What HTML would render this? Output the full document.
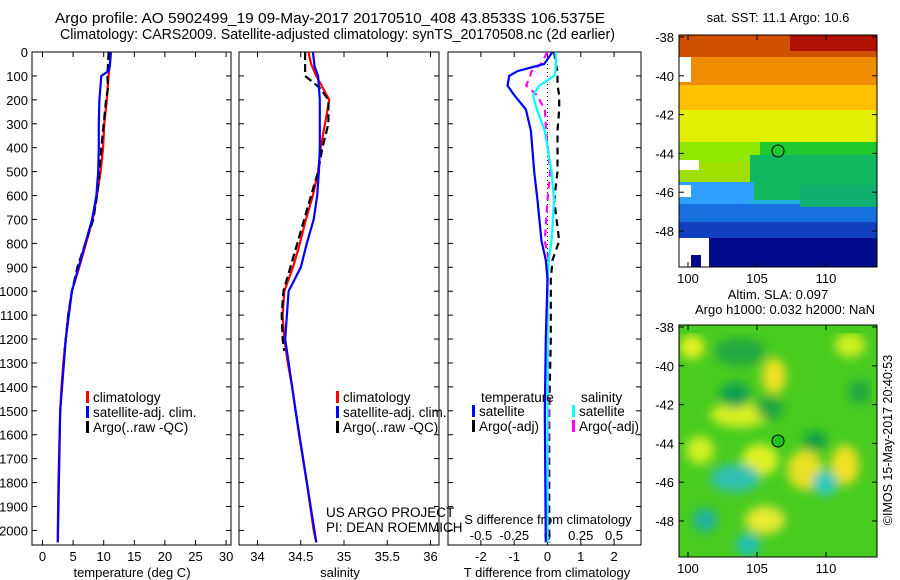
<!DOCTYPE html>
<html><head><meta charset="utf-8"><style>
body{margin:0;background:#fff;}
svg{display:block;font-family:"Liberation Sans",sans-serif;font-size:13px;}
.big{font-size:13px;}
.leg{font-size:13.5px;}
.ttl{font-size:15px;}
</style></head><body>
<svg id="fig" width="900" height="580" viewBox="0 0 900 580">
<defs>
<filter id="blur" x="0" y="0" width="1" height="1"><feGaussianBlur stdDeviation="5"/></filter>
<clipPath id="c1"><rect x="32" y="52" width="199" height="493"/></clipPath>
<clipPath id="c2"><rect x="239" y="52" width="200" height="493"/></clipPath>
<clipPath id="c3"><rect x="448" y="52" width="193" height="493"/></clipPath>
<clipPath id="cm2"><rect x="679" y="325" width="198" height="232"/></clipPath>
</defs>
<text class="ttl" x="55" y="23" textLength="550" lengthAdjust="spacingAndGlyphs">Argo profile: AO 5902499_19 09-May-2017 20170510_408 43.8533S 106.5375E</text>
<text class="ttl" x="60" y="39" textLength="555" lengthAdjust="spacingAndGlyphs">Climatology: CARS2009. Satellite-adjusted climatology: synTS_20170508.nc (2d earlier)</text>

<g id="p1"></g>
<g id="p2"></g>
<g id="p3"></g>

<!-- SST map -->
<g>
<text x="778" y="22" text-anchor="middle">sat. SST: 11.1 Argo: 10.6</text>
<rect x="679" y="35" width="198" height="232" fill="#fff"/>
<rect x="679" y="35" width="198" height="22" fill="#d05000"/>
<rect x="790" y="35" width="87" height="16" fill="#b01000"/>
<rect x="679" y="57" width="198" height="28" fill="#f08c00"/>
<rect x="679" y="85" width="198" height="25" fill="#ffc000"/>
<rect x="679" y="110" width="198" height="32" fill="#e0f000"/>
<rect x="679" y="142" width="198" height="20" fill="#90e800"/>
<rect x="760" y="142" width="117" height="20" fill="#20c830"/>
<rect x="679" y="162" width="198" height="20" fill="#a0e000"/>
<rect x="750" y="155" width="127" height="45" fill="#10b860"/>
<rect x="679" y="182" width="75" height="22" fill="#30a0ff"/>
<rect x="750" y="200" width="127" height="18" fill="#20b0e0"/>
<rect x="679" y="204" width="198" height="18" fill="#1870e0"/>
<rect x="800" y="185" width="77" height="22" fill="#10b070"/>
<rect x="679" y="222" width="198" height="16" fill="#1040c0"/>
<rect x="679" y="238" width="198" height="29" fill="#000a8a"/>
<rect x="679" y="57" width="12" height="25" fill="#fff"/>
<rect x="679" y="185" width="12" height="12" fill="#fff"/>
<rect x="679" y="238" width="30" height="29" fill="#fff"/>
<rect x="691" y="255" width="10" height="12" fill="#000a8a"/>
<rect x="679" y="160" width="20" height="10" fill="#fff"/>
<circle cx="778" cy="151" r="6" fill="none" stroke="#000"/>
<rect x="679" y="35" width="198" height="232" fill="none" stroke="#000"/>
</g>

<!-- SLA map -->
<g>
<text x="778" y="299" text-anchor="middle">Altim. SLA: 0.097</text>
<text x="785" y="314" text-anchor="middle">Argo h1000: 0.032 h2000: NaN</text>
<g clip-path="url(#cm2)">
<rect x="679" y="325" width="198" height="232" fill="#48cc20"/>
<g filter="url(#blur)">
<ellipse cx="692" cy="347" rx="12" ry="12" fill="#e8f020"/>
<ellipse cx="774" cy="376" rx="12" ry="18" fill="#f0e020"/>
<ellipse cx="850" cy="345" rx="15" ry="12" fill="#d0f020"/>
<ellipse cx="740" cy="415" rx="30" ry="12" fill="#d8f020"/>
<ellipse cx="760" cy="460" rx="18" ry="16" fill="#e0f020"/>
<ellipse cx="805" cy="470" rx="18" ry="20" fill="#e8e020"/>
<ellipse cx="845" cy="465" rx="14" ry="20" fill="#f0e020"/>
<ellipse cx="765" cy="520" rx="20" ry="14" fill="#e8e830"/>
<ellipse cx="700" cy="450" rx="14" ry="14" fill="#d0f020"/>
<ellipse cx="740" cy="352" rx="25" ry="14" fill="#20a840"/>
<ellipse cx="735" cy="395" rx="15" ry="13" fill="#10a050"/>
<ellipse cx="770" cy="408" rx="14" ry="12" fill="#20a840"/>
<ellipse cx="815" cy="441" rx="12" ry="10" fill="#10a040"/>
<ellipse cx="735" cy="478" rx="25" ry="14" fill="#30c0b0"/>
<ellipse cx="825" cy="483" rx="12" ry="13" fill="#30c8c0"/>
<ellipse cx="705" cy="520" rx="12" ry="12" fill="#20b0a0"/>
<ellipse cx="748" cy="545" rx="12" ry="12" fill="#20c0b0"/>
<ellipse cx="860" cy="392" rx="12" ry="12" fill="#20a840"/>
</g>
</g>
<circle cx="778" cy="441" r="6" fill="#20c020" stroke="#000"/>
<rect x="679" y="325" width="198" height="232" fill="none" stroke="#000"/>
</g>
<text transform="translate(892,440) rotate(-90)" text-anchor="middle" font-size="12.5">©IMOS 15-May-2017 20:40:53</text>
<g id="mapticks"></g>

<script>
// ---- data ----
const depthClim = [0,50,100,200,300,400,500,600,700,800,900,1000,1100,1200,1300,1400,1500,1600,1800,2000,2050];
const tempClim  = [11.1,11.0,10.8,10.5,10.1,9.9,9.5,8.9,8.2,7.1,6.0,4.8,4.2,3.8,3.4,3.1,2.9,2.8,2.6,2.5,2.5];
const depthSat  = [0,60,80,100,200,300,400,500,600,700,800,900,1000,1200,1500,2050];
const tempSat   = [11.2,11.0,10.8,9.6,9.3,9.2,9.2,9.1,8.8,8.1,7.0,5.9,4.8,3.8,2.9,2.5];
const depthArgo = [0,100,150,200,300,400,500,600,700,800,900,1000,1100,1200,1250];
const tempArgo  = [10.8,10.6,10.7,10.4,10.0,9.6,9.3,8.9,8.3,7.0,5.7,4.8,4.2,3.8,3.6];
const salClim   = [34.59,34.62,34.68,34.83,34.78,34.73,34.70,34.64,34.56,34.49,34.41,34.31,34.29,34.31,34.35,34.40,34.44,34.48,34.57,34.65,34.68];
const salSat    = [34.64,34.66,34.68,34.70,34.72,34.72,34.72,34.71,34.69,34.65,34.57,34.50,34.36,34.32,34.44,34.68];
const salArgo   = [34.55,34.55,34.72,34.82,34.82,34.75,34.70,34.62,34.54,34.46,34.38,34.30,34.28,34.29,34.31];
const dDiff     = [0,50,80,100,140,180,240,330,500,620,790,870,950,1200,1500,2050];
const tDiffSat  = [0.15,-0.1,-0.9,-1.15,-1.2,-1.0,-0.65,-0.5,-0.4,-0.3,-0.18,-0.05,0.0,-0.05,-0.08,-0.05];
const sDiffSat  = [0.06,0.065,0.06,0.05,-0.06,-0.11,-0.08,-0.02,0.03,0.05,0.03,0.01,0.0,0.0,0.0,0.0];
const sDiffArgo = [0.0,-0.05,-0.12,-0.13,-0.16,-0.08,-0.02,-0.01,0.02,0.0,-0.02,0.01,0.0,0.0,0.01,0.0];
const tDiffArgo = [0.2,0.25,0.3,0.3,0.3,0.35,0.35,0.3,0.3,0.2,0.35,0.15,0.1,0.1,0.05,0.05];
const depthTicks = [0,100,200,300,400,500,600,700,800,900,1000,1100,1200,1300,1400,1500,1600,1700,1800,1900,2000];
const tempTicks = [0,5,10,15,20,25,30];
const salTicks = [34,34.5,35,35.5,36];
const tdTicks = [-2,-1,0,1,2];
const sdTicks = [-0.5,-0.25,0,0.25,0.5];
const latTicks = [-38,-40,-42,-44,-46,-48];
const lonTicks = [100,105,110];

// ---- axes ----
const NS='http://www.w3.org/2000/svg';
const yD = d => 52 + d*0.2392;
const xT = t => 42.5 + t*6.12;
const xS = s => 257.5 + (s-34)*86.5;
const xTD = t => 547.5 + t*33.3;
const xSD = s => 547.5 + s*133;
function el(tag, attrs, parent, text){
  const e=document.createElementNS(NS,tag);
  for(const k in attrs) e.setAttribute(k,attrs[k]);
  if(text!==undefined) e.textContent=text;
  parent.appendChild(e); return e;
}
function line(parent, xs, ys, fx, color, w, dash, name, clip){
  const pts = xs.map((v,i)=>fx(v).toFixed(1)+','+yD(ys[i]).toFixed(1)).join(' ');
  const a={points:pts,fill:'none',stroke:color,'stroke-width':w,'clip-path':clip};
  if(dash) a['stroke-dasharray']=dash;
  const p=el('polyline',a,parent);
  
  
}
function frame(g,x0,x1,depthLabels){
  el('rect',{x:x0,y:52,width:x1-x0,height:493,fill:'none',stroke:'#000'},g);
  depthTicks.forEach(d=>{
    el('line',{x1:x0,x2:x0+5,y1:yD(d),y2:yD(d),stroke:'#000'},g);
    el('line',{x1:x1-5,x2:x1,y1:yD(d),y2:yD(d),stroke:'#000'},g);
    if(depthLabels){
      const t=el('text',{x:28,y:yD(d)+5,'text-anchor':'end'},g,String(d));
      
      
    }
  });
}
function xticks(g,ticks,fx,y){
  ticks.forEach(v=>{
    el('line',{x1:fx(v),x2:fx(v),y1:52,y2:57,stroke:'#000'},g);
    el('line',{x1:fx(v),x2:fx(v),y1:540,y2:545,stroke:'#000'},g);
    const t=el('text',{x:fx(v),y:y,'text-anchor':'middle'},g,String(v));
    
    
  });
}
function legend(g,x,y,color,label){
  el('rect',{x:x,y:y-11,width:3,height:12,fill:color},g);
  const t=el('text',{x:x+7,y:y,'class':'leg'},g,label);
  
  
}

// panel 1
const p1=document.getElementById('p1');
frame(p1,32,231,true);
xticks(p1,tempTicks,xT,561);
el('text',{x:132,y:577,'text-anchor':'middle','class':'big'},p1,'temperature (deg C)');
line(p1,tempClim,depthClim,xT,'#f00',2.2,null,'temp-climatology-line','url(#c1)');
line(p1,tempArgo,depthArgo,xT,'#000',2.2,'8,4','temp-argo-line','url(#c1)');
line(p1,tempSat,depthSat,xT,'#0000ff',2.2,null,'temp-satellite-line','url(#c1)');
legend(p1,86,402,'#f00','climatology');
legend(p1,86,417,'#00f','satellite-adj. clim.');
legend(p1,86,432,'#000','Argo(..raw -QC)');

// panel 2
const p2=document.getElementById('p2');
frame(p2,239,439,false);
xticks(p2,salTicks,xS,561);
el('text',{x:340,y:577,'text-anchor':'middle','class':'big'},p2,'salinity');
line(p2,salClim,depthClim,xS,'#f00',2.2,null,'sal-climatology-line','url(#c2)');
line(p2,salArgo,depthArgo,xS,'#000',2.2,'8,4','sal-argo-line','url(#c2)');
line(p2,salSat,depthSat,xS,'#0000ff',2.2,null,'sal-satellite-line','url(#c2)');
legend(p2,336,402,'#f00','climatology');
legend(p2,336,417,'#00f','satellite-adj. clim.');
legend(p2,336,432,'#000','Argo(..raw -QC)');
el('text',{x:326,y:517,'class':'leg'},p2,'US ARGO PROJECT');
el('text',{x:326,y:532,'class':'leg'},p2,'PI: DEAN ROEMMICH');

// panel 3
const p3=document.getElementById('p3');
frame(p3,448,641,false);
xticks(p3,tdTicks,xTD,561);
sdTicks.forEach(v=>{
  const t=el('text',{x:xSD(v),y:540,'text-anchor':'middle'},p3,String(v));
  
  
});
el('text',{x:548,y:524,'text-anchor':'middle','class':'big'},p3,'S difference from climatology');
el('text',{x:547,y:577,'text-anchor':'middle','class':'big'},p3,'T difference from climatology');
el('line',{x1:xTD(0),x2:xTD(0),y1:52,y2:545,stroke:'#000','stroke-dasharray':'1,3'},p3);
line(p3,tDiffArgo,dDiff,xTD,'#000',2.2,'7,5','tdiff-argo-line','url(#c3)');
line(p3,sDiffArgo,dDiff,xSD,'#ff00ff',2.2,'7,5','sdiff-argo-line','url(#c3)');
line(p3,sDiffSat,dDiff,xSD,'#00ffff',2.2,null,'sdiff-satellite-line','url(#c3)');
line(p3,tDiffSat,dDiff,xTD,'#0000ff',2.2,null,'tdiff-satellite-line','url(#c3)');
el('text',{x:481,y:402,'class':'leg'},p3,'temperature');
el('text',{x:581,y:402,'class':'leg'},p3,'salinity');
legend(p3,472,416,'#00f','satellite');
legend(p3,472,431,'#000','Argo(-adj)');
legend(p3,572,416,'#0ff','satellite');
legend(p3,572,431,'#f0f','Argo(-adj)');

// map ticks
const mt=document.getElementById('mapticks');
[[35,37],[325,327]].forEach(([top,y38])=>{
  const bot=top+232;
  latTicks.forEach((lat,i)=>{
    const y=y38+(-38-lat)*19.4;
    el('line',{x1:679,x2:684,y1:y,y2:y,stroke:'#000'},mt);
    el('line',{x1:872,x2:877,y1:y,y2:y,stroke:'#000'},mt);
    const t=el('text',{x:674,y:y+5,'text-anchor':'end'},mt,String(lat));
    
    
  });
  lonTicks.forEach(lon=>{
    const x=688+(lon-100)*13.8;
    el('line',{x1:x,x2:x,y1:top,y2:top+5,stroke:'#000'},mt);
    el('line',{x1:x,x2:x,y1:bot-5,y2:bot,stroke:'#000'},mt);
    const t=el('text',{x:x,y:bot+16,'text-anchor':'middle'},mt,String(lon));
    
    
  });
});
</script>
</svg>
</body></html>
